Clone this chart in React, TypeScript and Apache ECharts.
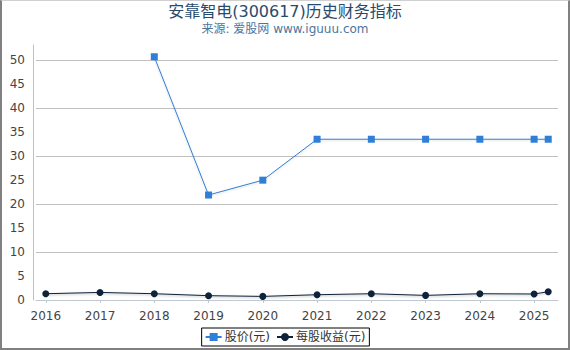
import React, { useEffect, useRef } from "react";
import * as echarts from "echarts";

const titleText = "安靠智电(300617)历史财务指标";
const subTitleText = "来源: 爱股网 www.iguuu.com";
const seriesNames = ["股价(元)", "每股收益(元)"];
const xPositions = [2016, 2017, 2018, 2019, 2020, 2021, 2022, 2023, 2024, 2025, 2025.26];
const priceValues: (number | null)[] = [null, null, 50.75, 21.9, 25.0, 33.54, 33.54, 33.54, 33.54, 33.54, 33.54];
const epsValues = [1.31, 1.58, 1.31, 0.9, 0.75, 1.1, 1.31, 0.96, 1.31, 1.25, 1.73];
const yearTicks = [2016, 2017, 2018, 2019, 2020, 2021, 2022, 2023, 2024, 2025];
const yTicks = [0, 5, 10, 15, 20, 25, 30, 35, 40, 45, 50];

const FONT = "DejaVu Sans, Noto Sans CJK SC, sans-serif";

export default function App() {
  const ref = useRef<HTMLDivElement>(null);
  useEffect(() => {
    document.body.style.margin = "0";
    if (!ref.current) return;
    const chart = echarts.init(ref.current, null, { renderer: "svg" });
    const priceData = xPositions
      .map((x, i) => [x, priceValues[i]])
      .filter((d) => d[1] !== null);
    const epsData = xPositions.map((x, i) => [x, epsValues[i]]);
    chart.setOption({
      animation: false,
      backgroundColor: "#ffffff",
      title: [
        {
          text: titleText,
          left: "center",
          top: 3,
          padding: 0,
          textStyle: { fontFamily: FONT, fontSize: 16, fontWeight: "normal", color: "#274b6d" },
        },
        {
          text: subTitleText,
          left: "center",
          top: 23,
          padding: 0,
          textStyle: { fontFamily: FONT, fontSize: 12, fontWeight: "normal", color: "#4d759e" },
        },
      ],
      legend: {
        top: 328,
        left: "center",
        padding: [3, 4, 3, 3],
        borderColor: "#000",
        borderWidth: 1,
        borderRadius: 0,
        itemGap: 6,
        itemWidth: 16,
        itemHeight: 10,
        textStyle: { fontFamily: FONT, fontSize: 12, color: "#333", padding: [0, 0, 0, -2] },
        data: seriesNames,
      },
      grid: { left: 36, right: 12, top: 45, bottom: 50 },
      xAxis: {
        type: "value",
        min: 2015.82,
        max: 2025.44,
        offset: 4,
        axisLine: { show: true, lineStyle: { color: "#c0c8d0", width: 1 } },
        axisTick: { show: true, length: 3, customValues: yearTicks, lineStyle: { color: "#c0c8d0" } },
        axisLabel: {
          customValues: yearTicks,
          margin: 6,
          fontFamily: FONT,
          fontSize: 12,
          color: "#444",
          formatter: (v: number) => String(v),
        },
        splitLine: { show: false },
      },
      yAxis: {
        type: "value",
        min: 0,
        max: 53.2,
        offset: 3,
        axisLine: { show: true, lineStyle: { color: "#c0c0c0", width: 1 } },
        axisTick: { show: false },
        axisLabel: {
          customValues: yTicks,
          margin: 8,
          fontFamily: FONT,
          fontSize: 12,
          color: "#444",
        },
        splitLine: {
          show: true,
          showMinLine: false,
          showMaxLine: false,
          lineStyle: { color: "#c0c0c0", width: 1 },
        },
      },
      series: [
        {
          name: seriesNames[0],
          type: "line",
          data: priceData,
          symbol: "rect",
          symbolSize: 7,
          color: "#2f7ed8",
          lineStyle: { color: "#2f7ed8", width: 1, shadowColor: "rgba(0,0,0,0.15)", shadowBlur: 2, shadowOffsetY: 1 },
          itemStyle: { color: "#2f7ed8" },
          z: 3,
        },
        {
          name: seriesNames[1],
          type: "line",
          data: epsData,
          symbol: "circle",
          symbolSize: 7,
          color: "#0d233a",
          lineStyle: { color: "#0d233a", width: 1, shadowColor: "rgba(0,0,0,0.3)", shadowBlur: 2, shadowOffsetY: 1 },
          itemStyle: { color: "#0d233a" },
          z: 4,
        },
      ],
    });
    return () => chart.dispose();
  }, []);
  return (
    <div style={{ position: "relative", width: 570, height: 350 }}>
      <div ref={ref} style={{ position: "absolute", left: 0, top: 0, width: 570, height: 350 }} />
      <div
        style={{
          position: "absolute",
          left: 0,
          top: 0,
          width: 570,
          height: 350,
          boxSizing: "border-box",
          borderLeft: "2px solid #808080",
          borderRight: "2px solid #808080",
          borderBottom: "2px solid #808080",
          borderTop: "1px solid #d0d0d0",
          pointerEvents: "none",
        }}
      />
    </div>
  );
}
